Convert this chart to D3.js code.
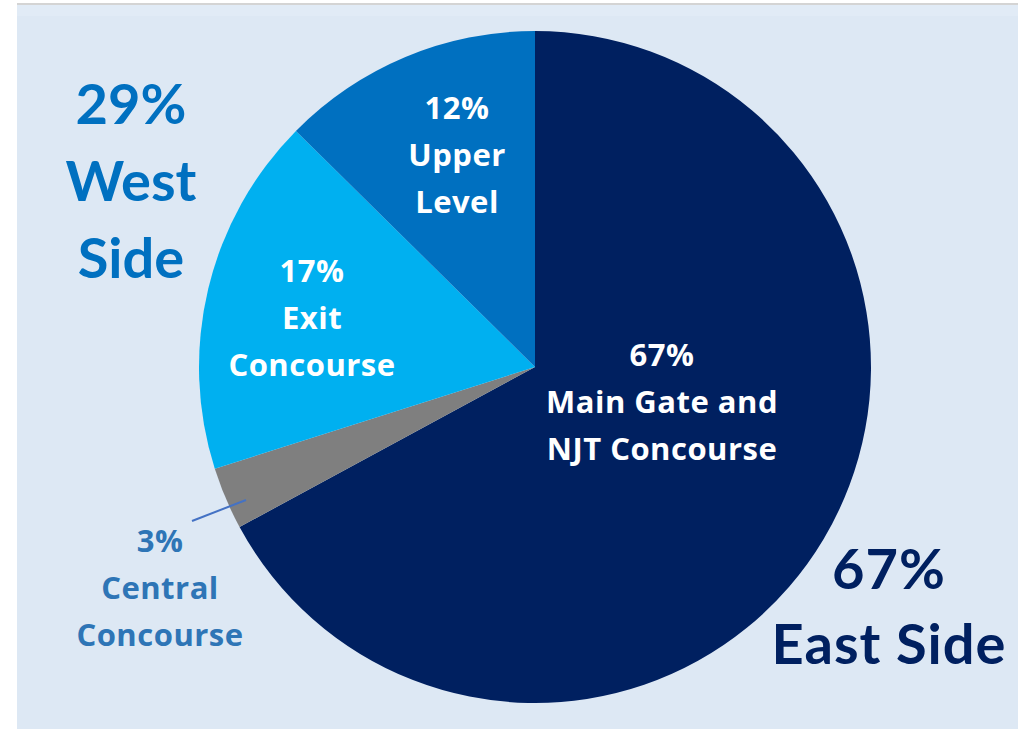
<!DOCTYPE html>
<html>
<head>
<meta charset="utf-8">
<script src="https://cdn.jsdelivr.net/npm/d3@7"></script>
<style>
  body { margin: 0; background: #ffffff; }
  svg { display: block; }
  text { font-family: Lato, "Open Sans", sans-serif; font-weight: 700; }
  text.small { font-family: "Open Sans", Lato, sans-serif; letter-spacing: 0.5px; }
</style>
</head>
<body>
<div id="chart"></div>
<script>
// slices, clockwise from 12 o'clock
let areas = ["Main Gate and NJT Concourse", "Central Concourse", "Exit Concourse", "Upper Level"];
let shares = [67.1, 3.0, 17.3, 12.6];
let pctLabels = ["67%", "3%", "17%", "12%"];
let sliceColors = ["#002060", "#7f7f7f", "#00b0f0", "#0070c0"];

let sideNames = ["West Side", "East Side"];
let sidePct = ["29%", "67%"];

let width = 1028, height = 729;
let cx = 535, cy = 367, radius = 336;

let svg = d3.select("#chart").append("svg")
  .attr("width", width)
  .attr("height", height);

// panel
svg.append("rect")
  .attr("x", 17).attr("y", 3)
  .attr("width", 1001).attr("height", 2)
  .attr("fill", "#d4d4d4");
svg.append("rect")
  .attr("x", 17).attr("y", 5)
  .attr("width", 1001).attr("height", height - 5)
  .attr("fill", "#dde8f4");
svg.append("rect")
  .attr("x", 17).attr("y", 5)
  .attr("width", 1001).attr("height", 11)
  .attr("fill", "#e1ebf6");

let pieData = d3.pie().sort(null).value(d => d)(shares);
let arc = d3.arc().innerRadius(0).outerRadius(radius);

let pieGroup = svg.append("g")
  .attr("transform", `translate(${cx}, ${cy})`);

pieGroup.selectAll("path")
  .data(pieData).enter().append("path")
  .attr("d", arc)
  .attr("fill", (d, i) => sliceColors[i]);

// text blocks: lines, centre x, first baseline, line step, size, colour
function block(lines, x, y, step, size, color, cls) {
  let t = svg.append("text")
    .attr("class", cls || null)
    .attr("text-anchor", "middle")
    .attr("font-size", size + "px")
    .attr("fill", color);
  lines.forEach(function(line, i) {
    t.append("tspan").attr("x", x).attr("y", y + i * step).text(line);
  });
  return t;
}

// inside labels
block([pctLabels[0], "Main Gate and", "NJT Concourse"], 662, 366, 47, 31, "#ffffff", "small");
block([pctLabels[2], "Exit", "Concourse"], 312, 282, 47, 31, "#ffffff", "small");
block([pctLabels[3], "Upper", "Level"], 457, 119, 47, 31, "#ffffff", "small");

// central concourse label with leader
svg.append("line")
  .attr("x1", 192).attr("y1", 521)
  .attr("x2", 246).attr("y2", 500)
  .attr("stroke", "#4472c4")
  .attr("stroke-width", 2);
block([pctLabels[1], "Central", "Concourse"], 160, 552, 47, 31, "#2e75b6", "small");

// side totals
block([sidePct[0], "West", "Side"], 131, 124, 77, 56, "#0070c0");
block([sidePct[1], sideNames[1]], 889, 589, 75, 56, "#002060")
  .attr("letter-spacing", "1px");
</script>
</body>
</html>
